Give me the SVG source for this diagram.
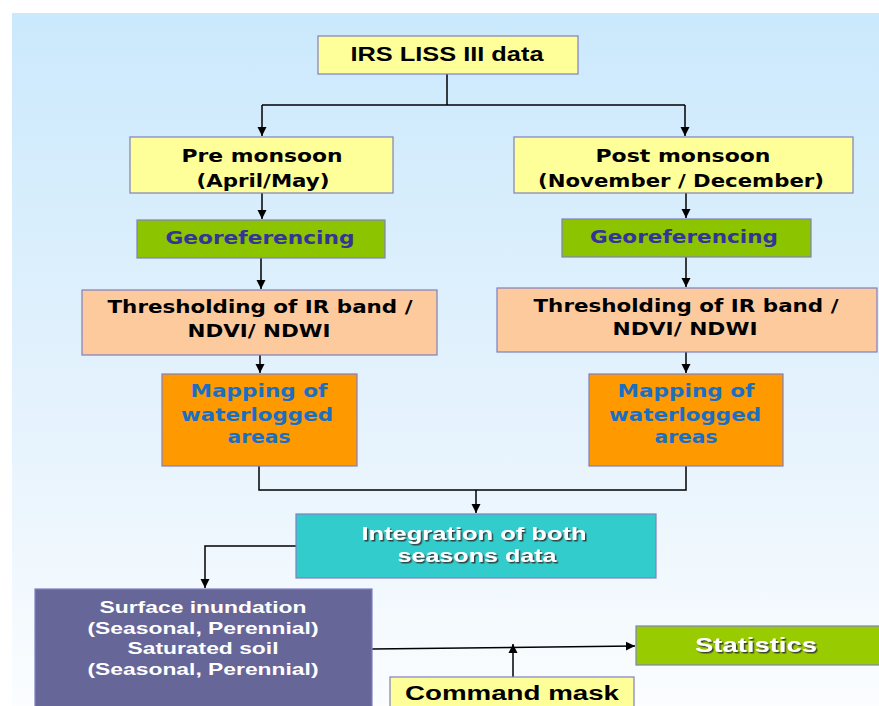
<svg xmlns="http://www.w3.org/2000/svg" width="879" height="706" viewBox="0 0 879 706">
<style>
.box{stroke:#7f7fc0;stroke-width:1.2}
.yel{fill:#ffff99}
.grn{fill:#8cc400}
.pch{fill:#fdca9e}
.org{fill:#ff9900}
.teal{fill:#33cccc}
.pur{fill:#666699}
.sgrn{fill:#99cc00}
.w{font-family:"DejaVu Sans",Verdana,sans-serif;font-weight:bold;text-anchor:middle}
.n{font-family:"Liberation Sans",Arial,sans-serif;font-weight:bold;text-anchor:middle}
.blk{fill:#000}
.dblue{fill:#333399}
.mblue{fill:#1a6fc4}
.wht{fill:#fff}
.ln{fill:none;stroke:#000;stroke-width:1.5}
</style>
<defs>
<linearGradient id="bg" x1="0" y1="0" x2="0" y2="1">
<stop offset="0" stop-color="#cbe9fc"/>
<stop offset="0.6" stop-color="#e6f3fd"/>
<stop offset="1" stop-color="#fbfdff"/>
</linearGradient>
<marker id="ah" markerWidth="10" markerHeight="10" refX="9" refY="5" orient="auto" markerUnits="userSpaceOnUse">
<path d="M0,0.5 L9,5 L0,9.5 Z" fill="#000"/>
</marker>
<filter id="sh" x="-10%" y="-30%" width="120%" height="160%">
<feDropShadow dx="1.5" dy="1.5" stdDeviation="0.6" flood-color="#333" flood-opacity="0.9"/>
</filter>
</defs>
<rect width="879" height="706" fill="#fff"/>
<rect x="12" y="13" width="867" height="693" fill="url(#bg)"/>

<g id="connectors">
<path class="ln" d="M447,74 V105 M262,105 H685"/>
<path class="ln" d="M262,105 V136" marker-end="url(#ah)"/>
<path class="ln" d="M685,105 V136" marker-end="url(#ah)"/>
<path class="ln" d="M262,193 V219" marker-end="url(#ah)"/>
<path class="ln" d="M686,193 V218" marker-end="url(#ah)"/>
<path class="ln" d="M261,258 V289" marker-end="url(#ah)"/>
<path class="ln" d="M686,257 V287" marker-end="url(#ah)"/>
<path class="ln" d="M260,355 V373" marker-end="url(#ah)"/>
<path class="ln" d="M686,352 V373" marker-end="url(#ah)"/>
<path class="ln" d="M259,466 V490 H686 V466"/>
<path class="ln" d="M476,490 V513" marker-end="url(#ah)"/>
<path class="ln" d="M296,546 H205 V588" marker-end="url(#ah)"/>
<path class="ln" d="M372,649 L635,646" marker-end="url(#ah)"/>
<path class="ln" d="M513,677 V644" marker-end="url(#ah)"/>
</g>

<g id="irs">
<rect class="box yel" x="318" y="36" width="260" height="38"/>
<text class="n blk" x="447" y="61" font-size="20" textLength="193" lengthAdjust="spacingAndGlyphs">IRS LISS III data</text>
</g>

<g id="pre">
<rect class="box yel" x="130" y="137" width="263" height="56"/>
<text class="w blk" x="262" y="162" font-size="18" textLength="161" lengthAdjust="spacingAndGlyphs">Pre monsoon</text>
<text class="w blk" x="263" y="187" font-size="18" textLength="133" lengthAdjust="spacingAndGlyphs">(April/May)</text>
</g>

<g id="post">
<rect class="box yel" x="514" y="137" width="339" height="56"/>
<text class="w blk" x="683" y="162" font-size="18" textLength="175" lengthAdjust="spacingAndGlyphs">Post monsoon</text>
<text class="w blk" x="681" y="187" font-size="18" textLength="286" lengthAdjust="spacingAndGlyphs">(November / December)</text>
</g>

<g id="geo-left">
<rect class="box grn" x="137" y="220" width="248" height="38"/>
<text class="w dblue" x="260" y="244" font-size="18" textLength="189" lengthAdjust="spacingAndGlyphs">Georeferencing</text>
</g>

<g id="geo-right">
<rect class="box grn" x="562" y="219" width="249" height="38"/>
<text class="w dblue" x="684" y="243" font-size="18" textLength="188" lengthAdjust="spacingAndGlyphs">Georeferencing</text>
</g>

<g id="thr-left">
<rect class="box pch" x="82" y="290" width="355" height="65"/>
<text class="w blk" x="260" y="313" font-size="18" textLength="305" lengthAdjust="spacingAndGlyphs">Thresholding of IR band /</text>
<text class="w blk" x="259" y="337" font-size="18" textLength="143" lengthAdjust="spacingAndGlyphs">NDVI/ NDWI</text>
</g>

<g id="thr-right">
<rect class="box pch" x="497" y="288" width="380" height="64"/>
<text class="w blk" x="686" y="312" font-size="18" textLength="305" lengthAdjust="spacingAndGlyphs">Thresholding of IR band /</text>
<text class="w blk" x="685" y="335" font-size="18" textLength="145" lengthAdjust="spacingAndGlyphs">NDVI/ NDWI</text>
</g>

<g id="map-left">
<rect class="box org" x="162" y="374" width="195" height="92"/>
<text class="w mblue" x="259" y="397" font-size="18" textLength="137" lengthAdjust="spacingAndGlyphs">Mapping of</text>
<text class="w mblue" x="257" y="421" font-size="18" textLength="152" lengthAdjust="spacingAndGlyphs">waterlogged</text>
<text class="w mblue" x="259" y="443" font-size="18" textLength="63" lengthAdjust="spacingAndGlyphs">areas</text>
</g>

<g id="map-right">
<rect class="box org" x="589" y="374" width="194" height="92"/>
<text class="w mblue" x="686" y="397" font-size="18" textLength="137" lengthAdjust="spacingAndGlyphs">Mapping of</text>
<text class="w mblue" x="685" y="421" font-size="18" textLength="152" lengthAdjust="spacingAndGlyphs">waterlogged</text>
<text class="w mblue" x="686" y="443" font-size="18" textLength="63" lengthAdjust="spacingAndGlyphs">areas</text>
</g>

<g id="integration">
<rect class="box teal" x="296" y="514" width="360" height="64"/>
<text class="n wht" x="474" y="540" font-size="19" textLength="225" lengthAdjust="spacingAndGlyphs" filter="url(#sh)">Integration of both</text>
<text class="n wht" x="477" y="562" font-size="19" textLength="159" lengthAdjust="spacingAndGlyphs" filter="url(#sh)">seasons data</text>
</g>

<g id="result">
<rect class="box pur" x="35" y="589" width="337" height="125"/>
<text class="n wht" x="203" y="613" font-size="17" textLength="207" lengthAdjust="spacingAndGlyphs">Surface inundation</text>
<text class="n wht" x="203" y="634" font-size="17" textLength="231" lengthAdjust="spacingAndGlyphs">(Seasonal, Perennial)</text>
<text class="n wht" x="203" y="654" font-size="17" textLength="151" lengthAdjust="spacingAndGlyphs">Saturated soil</text>
<text class="n wht" x="203" y="675" font-size="17" textLength="231" lengthAdjust="spacingAndGlyphs">(Seasonal, Perennial)</text>
</g>

<g id="statistics">
<rect class="box sgrn" x="636" y="626" width="250" height="39"/>
<text class="n wht" x="756" y="652" font-size="21" textLength="122" lengthAdjust="spacingAndGlyphs" filter="url(#sh)">Statistics</text>
</g>

<g id="command">
<rect class="box yel" x="390" y="677" width="244" height="40"/>
<text class="n blk" x="512" y="700" font-size="20" textLength="214" lengthAdjust="spacingAndGlyphs">Command mask</text>
</g>
</svg>
